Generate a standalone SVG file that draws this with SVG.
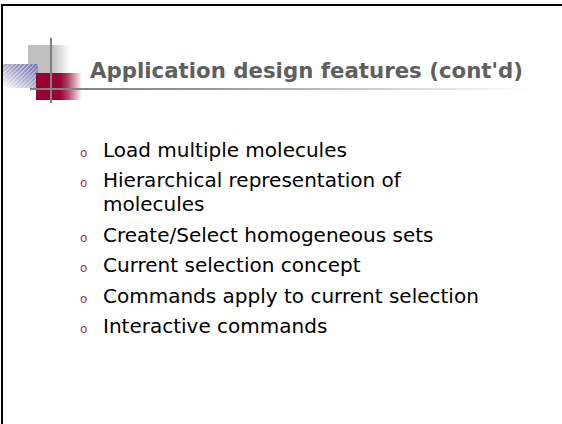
<svg xmlns="http://www.w3.org/2000/svg" width="562" height="424" viewBox="0 0 562 424">
<style>
.body{font-family:"DejaVu Sans","Liberation Sans",sans-serif;font-size:20px;fill:#000}
.bul{font-family:"DejaVu Sans","Liberation Sans",sans-serif;font-size:12px;fill:#993366}
.title{font-family:"DejaVu Sans","Liberation Sans",sans-serif;font-size:21px;font-weight:bold;fill:#5f5f5f}
</style>
<defs>
<linearGradient id="gGray" x1="0" y1="0" x2="1" y2="0">
<stop offset="0" stop-color="#c0c0c0"/><stop offset="0.55" stop-color="#c0c0c0"/><stop offset="1" stop-color="#ffffff"/>
</linearGradient>
<linearGradient id="gRed" x1="0" y1="0" x2="1" y2="0">
<stop offset="0" stop-color="#990033"/><stop offset="0.52" stop-color="#990033"/><stop offset="0.7" stop-color="#b04a66"/><stop offset="1" stop-color="#ffffff"/>
</linearGradient>
<linearGradient id="gBlue" x1="1" y1="0" x2="0" y2="1">
<stop offset="0" stop-color="#6a6aa8"/><stop offset="0.5" stop-color="#a8a8cc"/><stop offset="1" stop-color="#ffffff"/>
</linearGradient>
<pattern id="hatch" width="3" height="3" patternUnits="userSpaceOnUse" patternTransform="rotate(45)">
<rect width="1" height="3" fill="#ffffff" fill-opacity="0.6"/>
</pattern>
<linearGradient id="gLine" x1="0" y1="0" x2="1" y2="0">
<stop offset="0" stop-color="#808080"/><stop offset="0.3" stop-color="#909090"/><stop offset="1" stop-color="#ffffff"/>
</linearGradient>
</defs>
<g id="frame">
<path d="M2,424 V5 H562" fill="none" stroke="#000" stroke-width="2"/>
</g>
<g id="logo">
<rect x="28" y="45" width="42" height="28" fill="url(#gGray)"/>
<rect x="3" y="64" width="35" height="24" fill="url(#gBlue)"/>
<rect x="3" y="64" width="35" height="24" fill="url(#hatch)"/>
<rect x="36" y="73" width="46" height="27" fill="url(#gRed)"/>
<rect x="50" y="38" width="2" height="65" fill="#808080"/>
<rect x="30" y="88" width="500" height="2" fill="url(#gLine)"/>
</g>
<g id="title">
<text class="title" x="90" y="78" textLength="433" lengthAdjust="spacingAndGlyphs">Application design features (cont'd)</text>
</g>
<g id="bullets">
<g id="item1"><text class="bul" x="80" y="157">o</text><text class="body" x="103" y="157">Load multiple molecules</text></g>
<g id="item2"><text class="bul" x="80" y="187">o</text><text class="body" x="103" y="187">Hierarchical representation of</text><text class="body" x="103" y="211">molecules</text></g>
<g id="item3"><text class="bul" x="80" y="242">o</text><text class="body" x="103" y="242">Create/Select homogeneous sets</text></g>
<g id="item4"><text class="bul" x="80" y="272">o</text><text class="body" x="103" y="272">Current selection concept</text></g>
<g id="item5"><text class="bul" x="80" y="303">o</text><text class="body" x="103" y="303">Commands apply to current selection</text></g>
<g id="item6"><text class="bul" x="80" y="333">o</text><text class="body" x="103" y="333">Interactive commands</text></g>
</g>
</svg>
